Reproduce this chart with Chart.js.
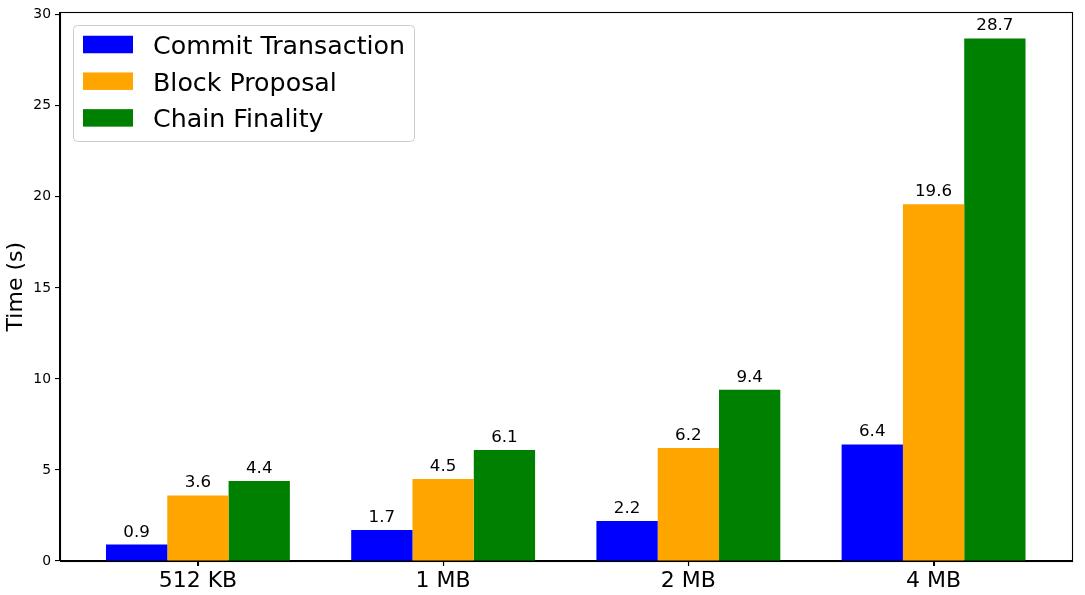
<!DOCTYPE html>
<html>
<head>
<meta charset="utf-8">
<script src="https://cdn.jsdelivr.net/npm/chart.js@4"></script>
<style>
html,body{margin:0;padding:0;background:#fff;}
#wrap{width:1085px;height:595px;position:relative;}
</style>
</head>
<body>
<div id="wrap"><canvas id="c"></canvas></div>
<script>
const categories = ["512 KB", "1 MB", "2 MB", "4 MB"];
const commitTransaction = [0.9, 1.7, 2.2, 6.4];
const blockProposal = [3.6, 4.5, 6.2, 19.6];
const chainFinality = [4.4, 6.1, 9.4, 28.7];
const yTicks = [0, 5, 10, 15, 20, 25, 30];
const seriesNames = ["Commit Transaction", "Block Proposal", "Chain Finality"];
const seriesColors = ["#0000ff", "#ffa500", "#008000"];
const seriesValues = [commitTransaction, blockProposal, chainFinality];

const FONT = "'DejaVu Sans', sans-serif";

const datasets = seriesValues.map((vals, i) => ({
  label: seriesNames[i],
  data: vals.map((v, j) => ({x: j, y: v})),
  backgroundColor: seriesColors[i],
  borderWidth: 0,
  categoryPercentage: 0.75,
  barPercentage: 1.0
}));

const frameAndLabels = {
  id: 'frameAndLabels',
  afterDatasetsDraw(chart) {
    const ctx = chart.ctx;
    const a = chart.chartArea;
    // value labels
    ctx.save();
    ctx.fillStyle = '#000';
    ctx.font = "16.7px " + FONT;
    ctx.textAlign = 'center';
    ctx.textBaseline = 'alphabetic';
    chart.data.datasets.forEach((ds, i) => {
      const meta = chart.getDatasetMeta(i);
      meta.data.forEach((bar, j) => {
        ctx.fillText(String(ds.data[j].y), bar.x, bar.y - 8);
      });
    });
    ctx.restore();
    // frame
    ctx.save();
    ctx.strokeStyle = '#000';
    ctx.lineWidth = 1.1;
    ctx.strokeRect(Math.round(a.left) + 0.5, Math.round(a.top) + 0.5, Math.round(a.right - a.left), Math.round(a.bottom - a.top));
    // x tick marks at category centres
    const xs = chart.scales.x;
    ctx.beginPath();
    categories.forEach((c, i) => {
      const px = Math.round(xs.getPixelForValue(i)) + 0.5;
      ctx.moveTo(px, Math.round(a.bottom));
      ctx.lineTo(px, Math.round(a.bottom) + 5);
    });
    ctx.stroke();
    ctx.restore();
    // legend
    ctx.save();
    const lx = 73.5, ly = 25.5, lw = 341, lh = 116, r = 4;
    ctx.beginPath();
    ctx.moveTo(lx + r, ly);
    ctx.lineTo(lx + lw - r, ly);
    ctx.quadraticCurveTo(lx + lw, ly, lx + lw, ly + r);
    ctx.lineTo(lx + lw, ly + lh - r);
    ctx.quadraticCurveTo(lx + lw, ly + lh, lx + lw - r, ly + lh);
    ctx.lineTo(lx + r, ly + lh);
    ctx.quadraticCurveTo(lx, ly + lh, lx, ly + lh - r);
    ctx.lineTo(lx, ly + r);
    ctx.quadraticCurveTo(lx, ly, lx + r, ly);
    ctx.closePath();
    ctx.fillStyle = 'rgba(255,255,255,0.8)';
    ctx.fill();
    ctx.strokeStyle = '#cccccc';
    ctx.lineWidth = 1;
    ctx.stroke();
    ctx.font = "25.3px " + FONT;
    ctx.textAlign = 'left';
    ctx.textBaseline = 'alphabetic';
    chart.data.datasets.forEach((ds, i) => {
      const cy = 44.5 + i * 36.7;
      ctx.fillStyle = ds.backgroundColor;
      ctx.fillRect(83, cy - 8.75, 50, 17.5);
      ctx.fillStyle = '#000';
      ctx.fillText(ds.label, 153, cy + 9.5);
    });
    ctx.restore();
  }
};

new Chart(document.getElementById('c'), {
  type: 'bar',
  data: { datasets },
  plugins: [frameAndLabels],
  options: {
    responsive: true,
    maintainAspectRatio: false,
    animation: false,
    devicePixelRatio: 1,
    layout: { padding: { left: 0, top: 12, right: 13.5, bottom: 0 } },
    plugins: { legend: { display: false }, tooltip: { enabled: false } },
    scales: {
      x: {
        type: 'linear',
        min: -0.5625,
        max: 3.5625,
        offset: false,
        afterBuildTicks(scale) { scale.ticks = categories.map((c, i) => ({ value: i })); },
        afterFit(scale) { scale.height = 34; },
        ticks: {
          callback: (v) => categories[v] ?? '',
          color: '#000',
          font: { family: FONT, size: 22 },
          padding: 2,
          maxRotation: 0,
          autoSkip: false
        },
        grid: { display: true, offset: false, drawOnChartArea: false, drawTicks: true, tickLength: 5, color: '#000', lineWidth: 1.1 },
        border: { display: true, color: '#000', width: 1.1 }
      },
      y: {
        type: 'linear',
        min: 0,
        max: 30.135,
        afterBuildTicks(scale) { scale.ticks = yTicks.map(v => ({ value: v })); },
        afterFit(scale) { scale.width = 60; },
        ticks: {
          color: '#000',
          font: { family: FONT, size: 13.9 },
          padding: 4
        },
        title: {
          display: true,
          text: 'Time (s)',
          color: '#000',
          font: { family: FONT, size: 22 },
          padding: { top: 3, bottom: 0 }
        },
        grid: { display: true, offset: false, drawOnChartArea: false, drawTicks: true, tickLength: 5, color: '#000', lineWidth: 1.1 },
        border: { display: true, color: '#000', width: 1.1 }
      }
    }
  }
});
</script>
</body>
</html>
